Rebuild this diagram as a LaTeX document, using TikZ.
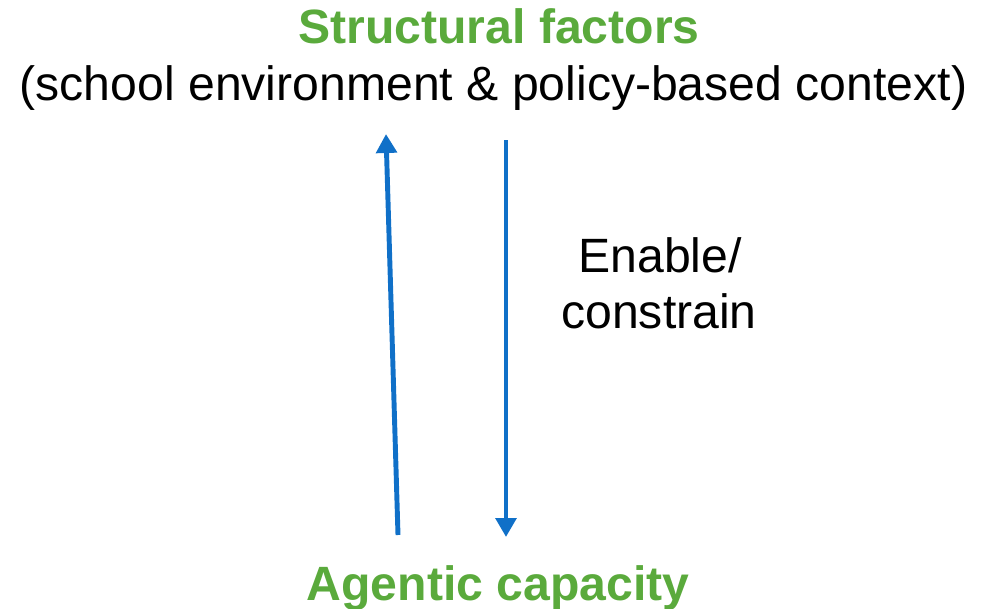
\documentclass[tikz,border=0pt]{standalone}
\usepackage{fontspec}
\setmainfont{Liberation Sans}
\usepackage{tikz}
\usetikzlibrary{arrows.meta}
\definecolor{leafgreen}{RGB}{90,170,60}
\definecolor{arrowblue}{RGB}{16,112,200}
\tikzset{
   big text/.style={font=\fontsize{13.7}{16.4}\selectfont, inner sep=0pt, anchor=base},
   heading/.style={big text, font=\fontsize{13.7}{16.4}\selectfont\bfseries, text=leafgreen},
   link/.style={draw=arrowblue, line width=1.4pt, -{Triangle[width=5.8pt,length=5.4pt]}}
}

\begin{document}
\begin{tikzpicture}
    \useasboundingbox (0,0) rectangle (9.86,6.08);

    \node[heading] (structure) at (4.99, 5.65) {Structural factors};
    \node[big text] (context) at (4.935, 5.08) {(school environment \& policy-based context)};

    \node[heading] (agentic) at (4.98, 0.08) {Agentic capacity};

    \node[big text] (enable) at (6.60, 3.36) {Enable/};
    \node[big text] (constrain) at (6.59, 2.80) {constrain};

    \coordinate (upfrom) at (3.98, 0.73);
    \coordinate (upto) at (3.86, 4.74);
    \coordinate (downfrom) at (5.06, 4.68);
    \coordinate (downto) at (5.06, 0.71);

    \draw[link] (upfrom) -- (upto);
    \draw[link] (downfrom) -- (downto);

\end{tikzpicture}
\end{document}
